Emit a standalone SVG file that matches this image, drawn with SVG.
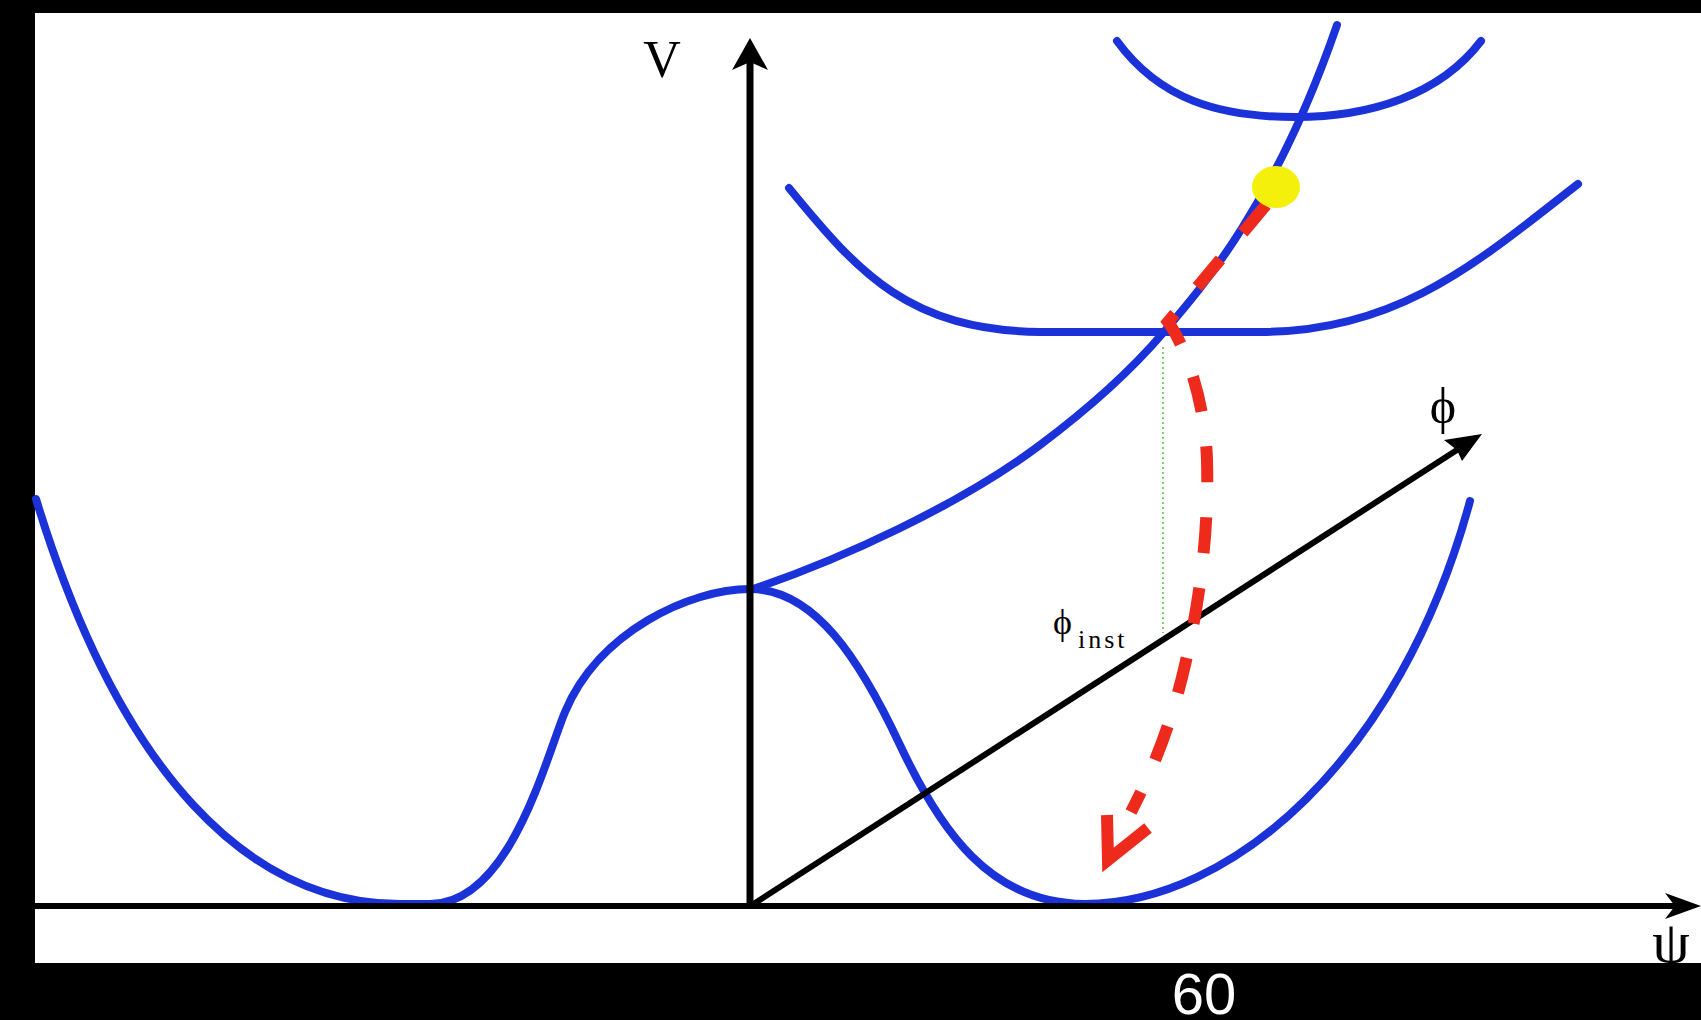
<svg xmlns="http://www.w3.org/2000/svg" width="1701" height="1020" viewBox="0 0 1701 1020">
  <style>
    .curve { fill: none; stroke: #1b32d9; stroke-width: 8; stroke-linecap: round; stroke-linejoin: round; }
    .axis { fill: none; stroke: #000; stroke-width: 6; }
    .head { fill: #000; }
    .red { fill: none; stroke: #ee2a1c; stroke-width: 12; }
    .lbl { font-family: "Liberation Serif", "DejaVu Serif", "Times New Roman", serif; fill: #000; }
  </style>
  <rect x="0" y="0" width="1701" height="1020" fill="#000"/>
  <rect x="35" y="13" width="1666" height="950" fill="#fff"/>

  <g id="curves">
    <path id="lower-well" class="curve" d="M 36,499 C 120,775 250,904 400,904 L 430,904 C 510,904 545,760 565,712 C 598,632 690,589 750,589 C 815,589 860,660 900,745 C 940,830 990,904 1085,904 C 1230,904 1400,760 1470,501"/>
    <path id="upper-branch" class="curve" d="M 750,590 C 840,560 960,505 1040,445 C 1100,400 1140,360 1163,333 C 1200,290 1275,205 1337,25"/>
    <path id="middle-well" class="curve" d="M 789,188 C 860,275 910,330 1040,332 L 1260,332 C 1400,332 1480,260 1578,184"/>
    <path id="top-well" class="curve" d="M 1117,41 C 1160,100 1220,117 1295,117 C 1370,117 1440,95 1481,41"/>
  </g>

  <g id="axes">
    <line class="axis" x1="35" y1="906" x2="1680" y2="906"/>
    <polygon class="head" points="1701,906 1665,893 1675,906 1665,919"/>
    <line class="axis" x1="750" y1="909" x2="750" y2="60" style="stroke-width:7"/>
    <polygon class="head" points="750,38 768,70 750,62 732,70"/>
    <line class="axis" x1="752" y1="905" x2="1460" y2="448"/>
    <polygon class="head" points="1482,434 1444,440 1457,450 1462,461"/>
  </g>

  <line id="guide" x1="1163" y1="347" x2="1163" y2="633" stroke="#7ccf6c" stroke-width="2" stroke-dasharray="2,3"/>

  <g id="trajectory">
    <path class="red" stroke-dasharray="36,35" d="M 1266,205 L 1168,322 C 1185,345 1205,400 1207,460 C 1209,530 1200,600 1185,665 C 1170,730 1150,775 1131,812"/>
    <polyline class="red" stroke-width="13" points="1107,815 1108,860 1148,828" stroke-linejoin="miter"/>
    <ellipse id="ball" cx="1276" cy="187" rx="24" ry="21" fill="#f4f00c"/>
  </g>

  <g id="labels">
    <text class="lbl" x="662" y="77" font-size="52" text-anchor="middle">V</text>
    <text class="lbl" x="1443" y="423" font-size="50" text-anchor="middle">ϕ</text>
    <text class="lbl" x="1053" y="634" font-size="36">ϕ<tspan font-size="26" dx="6" dy="14" letter-spacing="3">inst</tspan></text>
    <text class="lbl" x="1671" y="962" font-size="60" text-anchor="middle">ψ</text>
  </g>

  <rect x="0" y="963" width="1701" height="57" fill="#000"/>
  <text x="1204" y="1014" font-family="Liberation Sans, Arial, sans-serif" font-size="58" fill="#fff" text-anchor="middle">60</text>
</svg>
